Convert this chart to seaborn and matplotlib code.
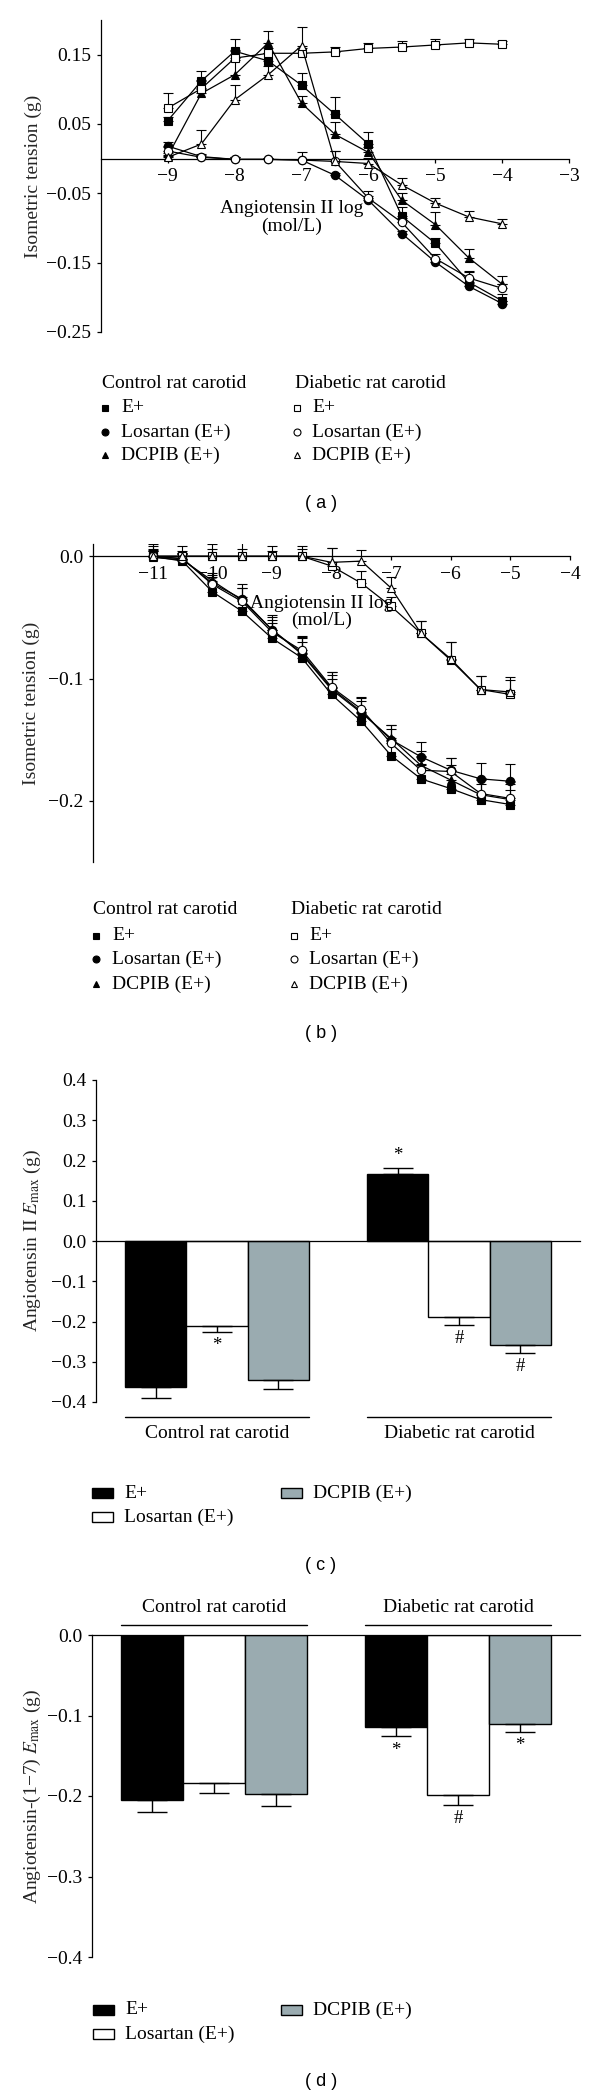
import matplotlib
matplotlib.use("Agg")
import matplotlib.pyplot as plt
import matplotlib.transforms as mtransforms
from matplotlib.lines import Line2D
from matplotlib.patches import Rectangle
import numpy as np
import pandas as pd
import seaborn as sns

W, H = 600, 2097

# ---- panel (a): Angiotensin II concentration-response curves
conc_a = [-9, -8.5, -8, -7.5, -7, -6.5, -6, -5.5, -5, -4.5, -4]
ctrl_e_a = [0.055, 0.112, 0.155, 0.141, 0.106, 0.064, 0.021, -0.083, -0.122, -0.178, -0.205]
ctrl_los_a = [0.018, 0.003, -0.001, -0.001, -0.002, -0.024, -0.060, -0.108, -0.149, -0.184, -0.209]
ctrl_dcpib_a = [0.004, 0.094, 0.121, 0.167, 0.080, 0.035, 0.009, -0.060, -0.095, -0.143, -0.181]
diab_e_a = [0.073, 0.101, 0.145, 0.152, 0.152, 0.154, 0.159, 0.161, 0.164, 0.167, 0.165]
diab_los_a = [0.011, 0.002, -0.001, -0.001, -0.002, -0.004, -0.057, -0.092, -0.144, -0.172, -0.187]
diab_dcpib_a = [0.002, 0.021, 0.085, 0.121, 0.163, -0.004, -0.007, -0.038, -0.064, -0.084, -0.094]
ctrl_e_a_err = [0.005, 0.015, 0.017, 0.012, 0.018, 0.025, 0.018, 0.013, 0.008, 0.014, 0.010]
ctrl_los_a_err = [0.006, 0.004, 0.004, 0.002, 0.002, 0.004, 0.006, 0.004, 0.004, 0.005, 0.004]
ctrl_dcpib_a_err = [0.004, 0.008, 0.022, 0.017, 0.010, 0.018, 0.008, 0.010, 0.018, 0.012, 0.012]
diab_e_a_err = [0.021, 0.012, 0.012, 0.008, 0.008, 0.007, 0.008, 0.008, 0.008, 0.006, 0.005]
diab_los_a_err = [0.006, 0.004, 0.004, 0.002, 0.012, 0.015, 0.010, 0.006, 0.006, 0.010, 0.006]
diab_dcpib_a_err = [0.004, 0.021, 0.021, 0.012, 0.027, 0.015, 0.008, 0.010, 0.007, 0.008, 0.007]

# ---- panel (b): Angiotensin-(1-7) concentration-response curves
conc_b = [-11, -10.5, -10, -9.5, -9, -8.5, -8, -7.5, -7, -6.5, -6, -5.5, -5]
ctrl_e_b = [0.0, -0.004, -0.029, -0.045, -0.067, -0.083, -0.113, -0.135, -0.163, -0.182, -0.190, -0.199, -0.203]
ctrl_los_b = [0.0, -0.002, -0.022, -0.035, -0.060, -0.079, -0.108, -0.127, -0.150, -0.164, -0.175, -0.182, -0.184]
ctrl_dcpib_b = [-0.001, -0.003, -0.020, -0.036, -0.060, -0.080, -0.109, -0.128, -0.149, -0.171, -0.183, -0.195, -0.199]
diab_e_b = [0.0, 0.0, 0.0, 0.0, 0.0, 0.0, -0.008, -0.022, -0.041, -0.063, -0.085, -0.109, -0.113]
diab_los_b = [0.0, -0.002, -0.023, -0.037, -0.062, -0.077, -0.107, -0.125, -0.153, -0.175, -0.176, -0.194, -0.198]
diab_dcpib_b = [0.0, 0.0, 0.0, 0.0, 0.0, 0.0, -0.005, -0.004, -0.026, -0.063, -0.084, -0.109, -0.111]
ctrl_e_b_err = [0.008, 0.006, 0.008, 0.012, 0.012, 0.013, 0.013, 0.010, 0.012, 0.012, 0.012, 0.013, 0.012]
ctrl_los_b_err = [0.006, 0.005, 0.007, 0.012, 0.010, 0.012, 0.013, 0.011, 0.012, 0.012, 0.010, 0.013, 0.014]
ctrl_dcpib_b_err = [0.005, 0.005, 0.006, 0.010, 0.012, 0.014, 0.012, 0.010, 0.011, 0.012, 0.012, 0.012, 0.013]
diab_e_b_err = [0.010, 0.008, 0.010, 0.013, 0.008, 0.008, 0.015, 0.010, 0.008, 0.010, 0.015, 0.011, 0.014]
diab_los_b_err = [0.005, 0.005, 0.006, 0.011, 0.010, 0.012, 0.012, 0.010, 0.012, 0.012, 0.011, 0.013, 0.013]
diab_dcpib_b_err = [0.004, 0.004, 0.006, 0.006, 0.004, 0.006, 0.012, 0.009, 0.009, 0.010, 0.014, 0.011, 0.010]

# ---- panels (c) and (d): Emax bars
groups = ["Control rat carotid", "Diabetic rat carotid"]
treatments = ["E+", "Losartan (E+)", "DCPIB (E+)"]
emax_c = [-0.362, -0.211, -0.345, 0.166, -0.189, -0.258]
emax_c_err = [0.028, 0.015, 0.022, 0.015, 0.019, 0.020]
sig_c = ["", "*", "", "*", "#", "#"]
emax_d = [-0.205, -0.184, -0.198, -0.114, -0.199, -0.110]
emax_d_err = [0.015, 0.012, 0.014, 0.012, 0.012, 0.010]
sig_d = ["", "", "", "*", "#", "*"]

bar_colors = ["#000000", "#ffffff", "#9aabb0"]
markers = ["s", "o", "^"]
curve_legend = ["E+", "Losartan (E+)", "DCPIB (E+)"]

sns.set_theme(style="ticks")
plt.rcParams["font.family"] = ["Liberation Serif", "DejaVu Serif"]
plt.rcParams["mathtext.fontset"] = "stix"
plt.rcParams["axes.edgecolor"] = "black"
plt.rcParams["axes.linewidth"] = 0.9
plt.rcParams["xtick.color"] = "black"
plt.rcParams["ytick.color"] = "black"
plt.rcParams["text.color"] = "black"
FS = 14

fig = plt.figure(figsize=(W / 100, H / 100), dpi=100)


def box(left, top, right, bottom):
    return [left / W, 1 - bottom / H, (right - left) / W, (bottom - top) / H]


def fx(x):
    return x / W


def fy(y):
    return 1 - y / H


def fmt(vals, nd):
    return [f"{round(v, nd) + 0.0:.{nd}f}".replace("-", "\u2212") for v in vals]


def draw_curves(ax, conc, ctrl, diab):
    series = [(y, e, m, "black") for (y, e), m in zip(ctrl, markers)]
    series += [(y, e, m, "white") for (y, e), m in zip(diab, markers)]
    for y, err, m, face in series:
        sns.lineplot(x=conc, y=y, ax=ax, color="black", linewidth=0.9,
                     marker=m, markersize=6, markerfacecolor=face,
                     markeredgecolor="black", markeredgewidth=0.8,
                     errorbar=None, legend=False, zorder=3)
        ax.errorbar(conc, y, yerr=[np.zeros(len(err)), err], fmt="none",
                    ecolor="black", elinewidth=0.8, capsize=3.5, capthick=0.8, zorder=2)


def style_curves(ax, xlim, ylim, xticks, yticks, nd, lab_xy):
    ax.set_xlim(*xlim)
    ax.set_ylim(*ylim)
    sns.despine(ax=ax)
    ax.spines["bottom"].set_position(("data", 0))
    ax.set_xticks(xticks)
    ax.set_yticks(yticks)
    ax.set_yticklabels(fmt(yticks, nd))
    ax.tick_params(direction="out", length=3, width=0.9, labelsize=FS, pad=4)
    ax.set_xlabel("")
    ax.set_ylabel("Isometric tension (g)", fontsize=FS)
    ax.text(lab_xy[0], lab_xy[1], "Angiotensin II log\n(mol/L)", transform=ax.transAxes,
            ha="center", va="center", fontsize=FS, linespacing=1.0)


def curve_legend_block(x0, y_head, rows, x_mark, x_text, face, head):
    fig.text(fx(x0), fy(y_head), head, ha="left", va="center", fontsize=FS)
    for m, lab, y in zip(markers, curve_legend, rows):
        fig.add_artist(Line2D([fx(x_mark)], [fy(y)], marker=m, markersize=5,
                              markerfacecolor=face, markeredgecolor="black",
                              markeredgewidth=0.8, linestyle="none",
                              transform=fig.transFigure))
        fig.text(fx(x_text), fy(y), lab, ha="left", va="center", fontsize=FS)


def panel_tag(y, letter):
    fig.text(fx(321), fy(y), f"( {letter} )", ha="center", va="center",
             fontsize=13, family=["Liberation Sans", "DejaVu Sans"])


# ---------------- (a)
ax_a = fig.add_axes(box(101, 20, 569, 332))
draw_curves(ax_a, conc_a,
            [(ctrl_e_a, ctrl_e_a_err), (ctrl_los_a, ctrl_los_a_err), (ctrl_dcpib_a, ctrl_dcpib_a_err)],
            [(diab_e_a, diab_e_a_err), (diab_los_a, diab_los_a_err), (diab_dcpib_a, diab_dcpib_a_err)])
style_curves(ax_a, (-10, -3), (-0.25, 0.2), [-9, -8, -7, -6, -5, -4, -3],
             [0.15, 0.05, -0.05, -0.15, -0.25], 2, (0.408, 0.367))
ax_a.yaxis.set_label_coords((42 - 101) / 468, 0.5)
curve_legend_block(102, 383, [408, 432, 455], 104.5, 121, "black", "Control rat carotid")
curve_legend_block(295, 383, [408, 432, 455], 297, 312, "white", "Diabetic rat carotid")
panel_tag(504, "a")

# ---------------- (b)
ax_b = fig.add_axes(box(93, 544, 570, 862))
draw_curves(ax_b, conc_b,
            [(ctrl_e_b, ctrl_e_b_err), (ctrl_los_b, ctrl_los_b_err), (ctrl_dcpib_b, ctrl_dcpib_b_err)],
            [(diab_e_b, diab_e_b_err), (diab_los_b, diab_los_b_err), (diab_dcpib_b, diab_dcpib_b_err)])
style_curves(ax_b, (-12, -4), (-0.25, 0.01), list(range(-11, -3)),
             [0.0, -0.1, -0.2], 1, (0.48, 0.786))
ax_b.yaxis.set_label_coords((40 - 93) / 477, 0.5)
curve_legend_block(93, 909, [936, 959, 984], 96, 112, "black", "Control rat carotid")
curve_legend_block(291, 909, [936, 959, 984], 294, 309, "white", "Diabetic rat carotid")
panel_tag(1033, "b")


# ---------------- bar panels
def draw_bars(ax, values, errs, sigs, ylim, ylabel, line_y, text_y):
    df = pd.DataFrame({
        "group": [g for g in groups for _ in treatments],
        "treatment": treatments * len(groups),
        "value": values,
    })
    sns.barplot(data=df, x="group", y="value", hue="treatment", order=groups,
                hue_order=treatments, palette=bar_colors, saturation=1,
                edgecolor="black", linewidth=1.0, width=0.76, errorbar=None,
                legend=False, ax=ax)
    bars = sorted(ax.patches, key=lambda p: p.get_x())
    xs = np.array([p.get_x() + p.get_width() / 2 for p in bars])
    vals = np.array(values)
    errs = np.array(errs)
    lower = np.where(vals < 0, errs, 0)
    upper = np.where(vals >= 0, errs, 0)
    ax.errorbar(xs, vals, yerr=[lower, upper], fmt="none", ecolor="black",
                elinewidth=1.0, capsize=11, capthick=1.0, zorder=4)
    for x, v, e, s in zip(xs, vals, errs, sigs):
        if s:
            end = v + e if v >= 0 else v - e
            off = 9 if v >= 0 else -10
            ax.annotate(s, (x, end), xytext=(0, off), textcoords="offset points",
                        ha="center", va="center", fontsize=13.5)
    ax.set_ylim(*ylim)
    ax.set_xlim(-0.5, 1.5)
    sns.despine(ax=ax)
    ax.spines["bottom"].set_position(("data", 0))
    ticks = np.round(np.arange(ylim[0], ylim[1] + 0.001, 0.1), 1)
    ax.set_yticks(ticks)
    ax.set_yticklabels(fmt(ticks, 1))
    ax.tick_params(axis="y", direction="out", length=3, width=0.9, labelsize=FS, pad=4)
    ax.tick_params(axis="x", length=0, labelbottom=False)
    ax.set_xlabel("")
    ax.set_ylabel(ylabel, fontsize=FS)
    trans = mtransforms.blended_transform_factory(ax.transData, ax.transAxes)
    for i, g in enumerate(groups):
        grp = bars[i * 3:(i + 1) * 3]
        x0 = grp[0].get_x()
        x1 = grp[-1].get_x() + grp[-1].get_width()
        ax.plot([x0, x1], [line_y, line_y], transform=trans, clip_on=False,
                color="black", linewidth=1.0)
        ax.text((x0 + x1) / 2, text_y, g, transform=trans, ha="center",
                va="center", fontsize=FS)


def bar_legend(rows, col1, col2):
    pos = [(col1, rows[0]), (col1, rows[1]), (col2, rows[0])]
    for (x, y), lab, c in zip(pos, treatments, bar_colors):
        fig.add_artist(Rectangle((fx(x), fy(y + 5)), 21 / W, 10 / H,
                                 facecolor=c, edgecolor="black", linewidth=1.0,
                                 transform=fig.transFigure))
        fig.text(fx(x + 32), fy(y), lab, ha="left", va="center", fontsize=FS)


# ---------------- (c)
ax_c = fig.add_axes(box(96, 1080, 580, 1402))
draw_bars(ax_c, emax_c, emax_c_err, sig_c, (-0.4, 0.4),
          "Angiotensin II $E_{\\mathrm{max}}$ (g)", -0.046, -0.098)
ax_c.yaxis.set_label_coords((43 - 96) / 484, 0.5)
bar_legend([1493, 1517], 92, 281)
panel_tag(1565, "c")

# ---------------- (d)
ax_d = fig.add_axes(box(92, 1635, 580, 1957))
draw_bars(ax_d, emax_d, emax_d_err, sig_d, (-0.4, 0.0),
          "Angiotensin-(1\u22127) $E_{\\mathrm{max}}$ (g)", 1.031, 1.085)
ax_d.yaxis.set_label_coords((43 - 92) / 488, 0.5)
bar_legend([2010, 2034], 93, 281)
panel_tag(2082, "d")

fig.savefig("out.png", dpi=100, facecolor="white")
